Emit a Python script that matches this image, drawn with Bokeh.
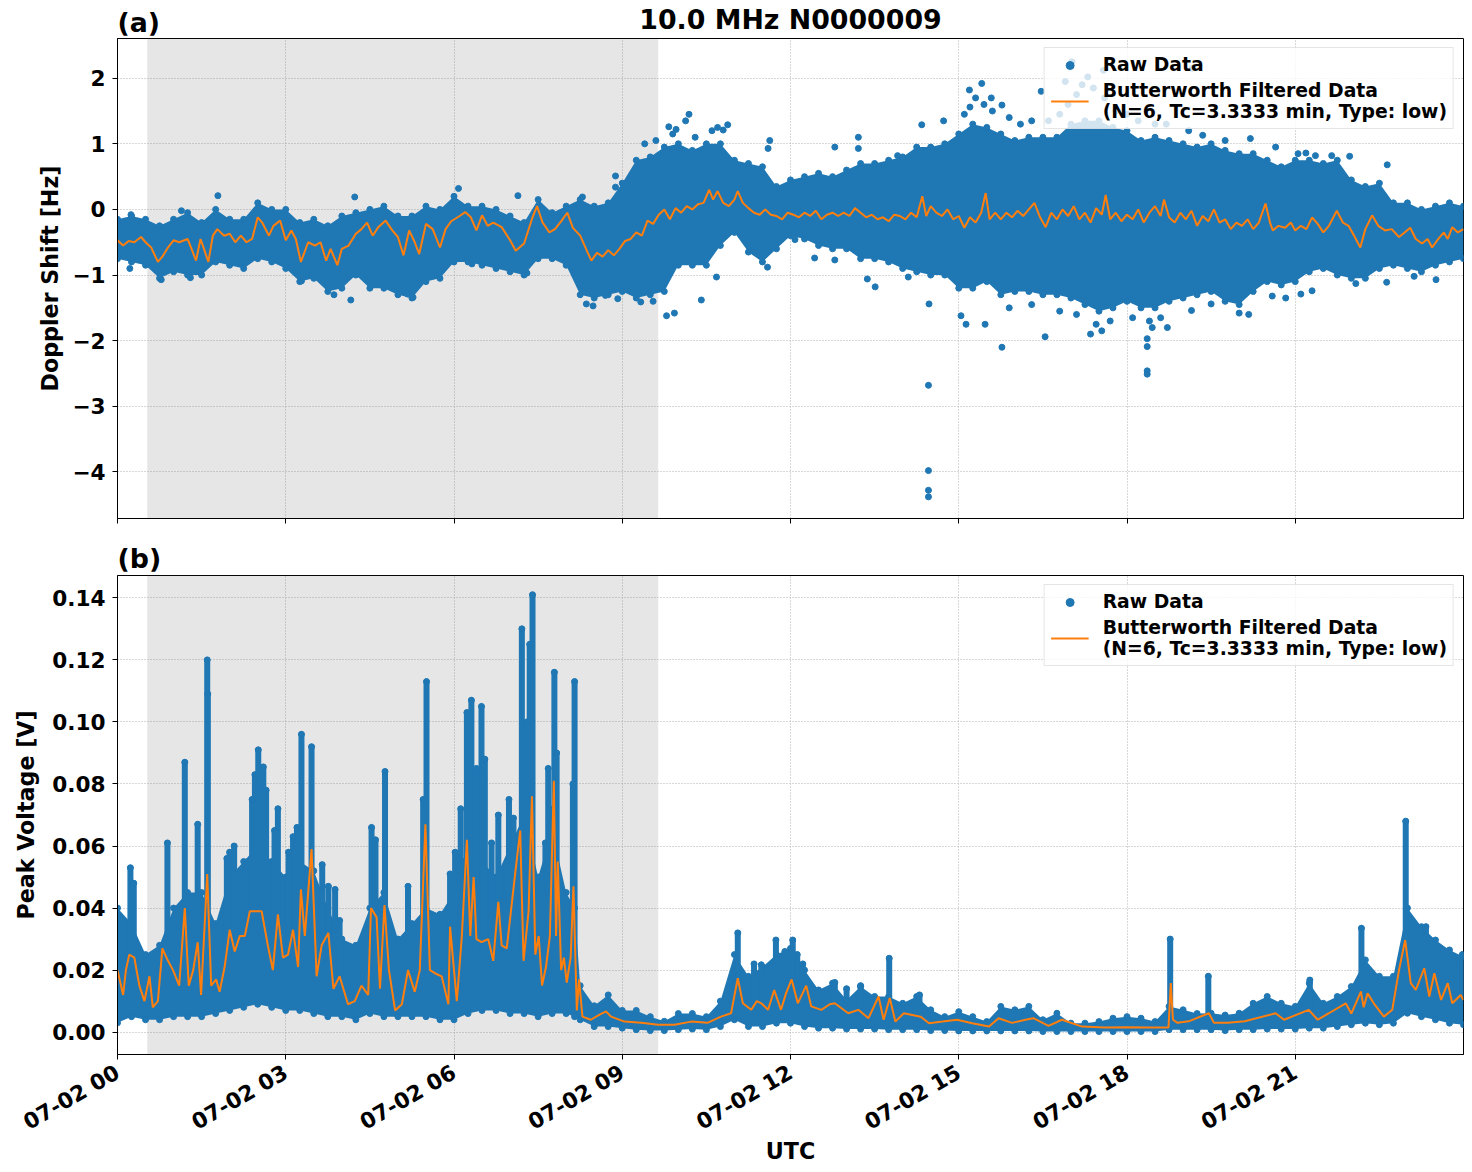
import math
import numpy as np
import pandas as pd
from bokeh.plotting import figure
from bokeh.layouts import column
from bokeh.models import (FixedTicker, BoxAnnotation, Legend, LegendItem, LinearAxis,
                          Range1d, DatetimeTickFormatter)
from bokeh.embed import file_html
from bokeh.resources import INLINE

# ---------------- data (hours after 07-02 00 UTC) ----------------
filt_a_t = [0.00,0.10,0.20,0.30,0.42,0.50,0.60,0.72,0.80,0.90,1.00,1.10,1.25,1.32,1.40,1.48,1.55,1.62,1.70,1.78,
            1.90,2.00,2.10,2.20,2.30,2.40,2.50,2.58,2.70,2.78,2.90,3.00,3.10,3.18,3.27,3.40,3.52,3.62,3.72,3.80,
            3.92,4.00,4.12,4.25,4.35,4.45,4.55,4.65,4.78,4.90,5.00,5.10,5.20,5.30,5.38,5.50,5.62,5.75,5.85,5.95,
            6.10,6.20,6.30,6.40,6.50,6.60,6.70,6.85,7.00,7.10,7.25,7.40,7.48,7.58,7.70,7.80,7.92,8.02,8.12,8.25,
            8.38,8.45,8.55,8.65,8.75,8.85,8.95,9.05,9.15,9.25,9.35,9.45,9.55,9.65,9.75,9.85,9.95,10.05,10.15,10.25,
            10.35,10.45,10.55,10.62,10.70,10.80,10.90,11.00,11.06,11.15,11.25,11.35,11.45,11.55,11.65,11.75,11.85,11.95,12.05,12.15,
            12.25,12.35,12.45,12.55,12.65,12.75,12.85,12.95,13.05,13.15,13.25,13.35,13.45,13.55,13.65,13.75,13.85,13.95,14.05,14.15,
            14.25,14.35,14.42,14.50,14.60,14.70,14.80,14.90,15.00,15.10,15.20,15.30,15.40,15.48,15.55,15.65,15.75,15.85,15.95,16.05,
            16.15,16.25,16.35,16.45,16.55,16.65,16.75,16.85,16.95,17.05,17.15,17.25,17.35,17.45,17.55,17.62,17.70,17.80,17.90,18.00,
            18.10,18.20,18.30,18.40,18.50,18.60,18.66,18.75,18.85,18.95,19.05,19.15,19.25,19.35,19.45,19.55,19.65,19.75,19.85,19.95,
            20.05,20.15,20.25,20.35,20.47,20.55,20.60,20.70,20.82,20.92,21.00,21.10,21.20,21.30,21.40,21.50,21.60,21.74,21.85,21.95,
            22.05,22.16,22.25,22.37,22.48,22.60,22.72,22.85,22.95,23.05,23.15,23.26,23.36,23.44,23.55,23.65,23.72,23.80,23.90,24.00]
filt_a_v = [-0.47,-0.55,-0.48,-0.50,-0.42,-0.50,-0.58,-0.80,-0.72,-0.58,-0.47,-0.50,-0.45,-0.60,-0.78,-0.45,-0.62,-0.80,-0.40,-0.30,
            -0.40,-0.37,-0.50,-0.40,-0.50,-0.45,-0.12,-0.20,-0.40,-0.25,-0.17,-0.47,-0.32,-0.45,-0.80,-0.50,-0.55,-0.50,-0.78,-0.60,
            -0.85,-0.60,-0.55,-0.37,-0.30,-0.20,-0.40,-0.27,-0.17,-0.32,-0.42,-0.70,-0.32,-0.50,-0.68,-0.22,-0.30,-0.58,-0.30,-0.18,
            -0.10,-0.04,-0.12,-0.32,-0.09,-0.25,-0.20,-0.27,-0.47,-0.63,-0.52,-0.12,0.05,-0.20,-0.35,-0.30,-0.17,-0.05,-0.28,-0.40,
            -0.65,-0.78,-0.66,-0.72,-0.62,-0.70,-0.60,-0.48,-0.45,-0.35,-0.40,-0.17,-0.22,-0.08,0.00,-0.15,0.02,-0.05,0.05,0.00,
            0.08,0.10,0.30,0.15,0.28,0.10,0.05,0.15,0.28,0.10,0.02,-0.05,-0.08,0.00,-0.08,-0.10,-0.15,-0.05,-0.08,-0.12,
            -0.05,-0.10,-0.02,-0.15,-0.08,-0.05,-0.10,-0.05,-0.10,0.02,-0.05,-0.12,-0.08,-0.15,-0.12,-0.18,-0.08,-0.10,-0.15,-0.05,
            -0.12,0.20,-0.10,0.05,-0.05,-0.10,0.00,-0.15,-0.10,-0.28,-0.12,-0.20,-0.05,0.25,-0.15,-0.05,-0.15,-0.05,-0.12,-0.02,
            -0.10,0.00,0.10,-0.12,-0.27,-0.05,-0.15,0.00,-0.10,0.05,-0.15,-0.05,-0.20,0.02,-0.08,0.22,-0.15,-0.05,-0.18,-0.08,
            -0.15,0.00,-0.20,-0.05,0.05,-0.10,0.15,-0.12,-0.20,-0.05,-0.15,-0.02,-0.25,-0.10,-0.18,0.00,-0.20,-0.15,-0.30,-0.20,
            -0.25,-0.15,-0.30,-0.20,0.09,-0.20,-0.32,-0.25,-0.28,-0.20,-0.32,-0.25,-0.30,-0.12,-0.22,-0.35,-0.25,-0.02,-0.20,-0.25,
            -0.40,-0.58,-0.30,-0.09,-0.25,-0.32,-0.30,-0.42,-0.35,-0.28,-0.45,-0.52,-0.45,-0.58,-0.45,-0.35,-0.45,-0.27,-0.35,-0.30]

band_a_t = [0.00,0.25,0.50,0.75,1.00,1.25,1.50,1.75,2.00,2.25,2.50,2.75,3.00,3.25,3.50,3.75,4.00,4.25,4.50,4.75,
            5.00,5.25,5.50,5.75,6.00,6.25,6.50,6.75,7.00,7.25,7.50,7.75,8.00,8.25,8.50,8.75,9.00,9.25,9.50,9.75,
            10.00,10.25,10.50,10.75,11.00,11.25,11.50,11.75,12.00,12.25,12.50,12.75,13.00,13.25,13.50,13.75,14.00,14.25,14.50,14.75,
            15.00,15.25,15.50,15.75,16.00,16.25,16.50,16.75,17.00,17.25,17.50,17.75,18.00,18.25,18.50,18.75,19.00,19.25,19.50,19.75,
            20.00,20.25,20.50,20.75,21.00,21.25,21.50,21.75,22.00,22.25,22.50,22.75,23.00,23.25,23.50,23.75,24.00]
band_a_hi = [-0.15,-0.10,-0.15,-0.25,-0.15,-0.05,-0.20,0.00,-0.15,-0.15,0.10,0.00,0.00,-0.20,-0.15,-0.25,-0.10,-0.05,0.00,0.05,
             -0.10,-0.10,0.05,0.00,0.20,0.05,0.05,0.00,-0.10,-0.20,0.15,-0.05,0.05,0.15,0.05,0.10,0.40,0.75,0.80,0.95,
             1.00,0.90,1.00,1.00,0.75,0.70,0.65,0.35,0.45,0.50,0.55,0.50,0.60,0.70,0.70,0.75,0.80,0.95,0.95,1.00,
             1.15,1.30,1.25,1.15,1.05,1.10,1.10,1.10,1.30,1.35,1.35,1.25,1.20,1.05,1.10,1.05,1.00,0.95,1.00,0.90,
             0.85,0.85,0.75,0.65,0.75,0.75,0.70,0.75,0.45,0.35,0.40,0.10,0.10,0.00,0.05,0.10,0.05]
band_a_lo = [-0.75,-0.80,-0.85,-1.05,-0.95,-1.00,-1.00,-0.80,-0.85,-0.90,-0.75,-0.80,-0.90,-1.10,-1.05,-1.25,-1.20,-1.00,-1.20,-1.20,
             -1.30,-1.35,-1.10,-1.05,-0.80,-0.80,-0.85,-0.90,-0.95,-1.00,-0.75,-0.75,-0.85,-1.30,-1.35,-1.30,-1.25,-1.35,-1.30,-1.25,
             -0.85,-0.85,-0.85,-0.55,-0.35,-0.65,-0.80,-0.60,-0.40,-0.45,-0.55,-0.60,-0.60,-0.75,-0.75,-0.80,-0.90,-0.95,-1.00,-1.00,
             -1.20,-1.20,-1.10,-1.30,-1.25,-1.25,-1.30,-1.30,-1.35,-1.45,-1.55,-1.50,-1.40,-1.50,-1.50,-1.40,-1.35,-1.30,-1.25,-1.40,
             -1.45,-1.25,-1.10,-1.15,-1.10,-0.95,-0.90,-1.00,-1.05,-1.05,-0.90,-0.85,-0.90,-0.95,-0.85,-0.80,-0.75]

out_a_t = [0.24,0.22,1.14,1.30,1.79,0.78,3.28,3.86,4.16,4.23,4.65,5.17,5.27,6.08,6.32,6.70,7.14,7.30,
           8.29,8.88,8.88,8.36,8.48,8.70,8.92,9.33,9.55,9.79,9.93,10.41,10.68,10.19,10.13,9.83,9.96,10.88,10.80,
           11.63,11.60,11.36,11.59,12.08,12.43,12.79,12.79,13.21,13.21,13.37,13.51,13.91,14.10,14.34,14.47,14.73,
           15.04,15.13,15.19,15.41,15.58,15.47,15.20,16.47,15.77,22.64,15.77,16.54,17.35,17.55,18.36,18.36,18.36,18.36,
           18.72,18.45,20.17,20.59,20.83,22.08,22.63,23.51,23.12,21.97,21.36,21.19,17.02,17.58,16.90,17.30,19.16,
           14.46,14.46,14.46,14.46,
           9.40,9.60,9.90,10.30,10.60,10.70,15.10,15.30,15.45,15.60,15.90,16.10,16.30,16.60,16.80,16.95,17.10,17.20,
           17.40,17.60,17.80,18.00,18.20,18.50,18.70,19.10,19.35,19.75,20.20,20.65,21.05,21.65,
           15.90,16.30,16.80,17.10,17.45,17.70,18.10,18.40,18.60,19.15,19.50,20.00,21.10,21.30]
out_a_v = [-0.08,-0.90,-0.02,-1.04,0.21,-1.07,-1.09,-1.30,-1.38,0.19,-1.07,-1.29,-1.34,0.32,-0.83,-0.75,0.21,-0.97,
           0.19,0.51,0.34,-1.44,-1.47,-1.31,-1.36,-1.41,-1.40,-1.62,-1.58,-1.38,-1.03,1.45,1.35,1.26,1.22,1.29,1.21,
           1.05,0.93,-0.65,-0.88,-0.46,-0.74,0.95,-0.77,1.10,0.93,-1.06,-1.18,0.82,-1.03,1.29,-1.44,1.35,
           -1.62,-1.75,1.82,1.92,1.70,-1.75,1.56,1.80,1.59,0.68,-2.10,-1.94,-1.90,-1.85,-1.97,-2.09,-2.46,-2.51,
           -1.80,-1.80,-1.60,-1.32,-1.35,-1.13,-1.11,-1.07,-1.02,0.81,0.82,0.86,2.25,2.12,1.95,2.02,2.15,
           -2.68,-3.98,-4.28,-4.38,
           1.00,1.05,1.15,1.10,1.20,1.25,1.45,1.70,1.60,1.50,1.40,1.30,1.35,1.35,1.45,1.60,1.75,1.90,
           1.85,1.70,1.50,1.45,1.35,1.30,1.30,1.20,1.13,1.05,1.08,0.95,0.85,0.82,
           -1.50,-1.45,-1.55,-1.60,-1.75,-1.70,-1.65,-1.70,-1.65,-1.54,-1.44,-1.58,-1.29,-1.24]

filt_b_t = [0.00,0.05,0.10,0.15,0.21,0.30,0.39,0.48,0.57,0.63,0.72,0.80,0.90,0.99,1.10,1.20,1.27,1.35,1.43,1.49,
            1.60,1.67,1.76,1.82,1.91,2.00,2.09,2.18,2.27,2.36,2.45,2.57,2.68,2.77,2.86,2.95,3.04,3.13,3.22,3.27,
            3.34,3.46,3.55,3.64,3.76,3.85,3.96,4.11,4.23,4.35,4.47,4.52,4.62,4.68,4.76,4.84,4.95,5.07,5.18,5.30,
            5.39,5.49,5.57,5.66,5.78,5.90,5.93,6.05,6.14,6.23,6.29,6.35,6.40,6.49,6.61,6.70,6.79,6.85,6.94,7.09,
            7.18,7.24,7.33,7.39,7.45,7.51,7.57,7.64,7.71,7.78,7.82,7.85,7.91,7.96,8.01,8.08,8.13,8.19,8.23,8.29,
            8.44,8.59,8.71,8.80,9.04,9.34,9.64,9.93,10.23,10.52,10.76,10.94,11.06,11.15,11.30,11.40,11.48,11.60,11.71,11.83,
            11.92,12.02,12.13,12.28,12.37,12.55,12.70,12.79,13.03,13.21,13.39,13.57,13.66,13.77,13.87,14.02,14.32,14.47,14.71,14.97,
            15.24,15.54,15.71,15.95,16.19,16.33,16.60,16.84,17.20,17.60,18.00,18.40,18.74,18.78,18.82,18.90,19.10,19.46,19.55,19.80,
            20.10,20.65,20.80,21.24,21.40,21.60,21.90,22.00,22.17,22.22,22.29,22.40,22.58,22.73,22.85,22.96,23.06,23.15,23.30,23.39,
            23.48,23.60,23.72,23.80,23.95,24.00]
filt_b_v = [0.020,0.016,0.012,0.020,0.025,0.024,0.015,0.010,0.018,0.008,0.010,0.027,0.023,0.020,0.015,0.040,0.015,0.020,0.029,0.012,
            0.051,0.015,0.017,0.013,0.021,0.033,0.026,0.031,0.031,0.039,0.039,0.039,0.028,0.020,0.038,0.024,0.025,0.033,0.021,0.046,
            0.031,0.059,0.018,0.028,0.032,0.014,0.018,0.009,0.010,0.015,0.012,0.040,0.037,0.014,0.041,0.020,0.007,0.009,0.020,0.013,
            0.020,0.067,0.020,0.019,0.018,0.009,0.034,0.010,0.031,0.062,0.031,0.050,0.030,0.029,0.030,0.023,0.042,0.028,0.027,0.051,
            0.065,0.023,0.039,0.076,0.025,0.031,0.015,0.021,0.031,0.081,0.031,0.055,0.020,0.024,0.016,0.024,0.047,0.007,0.017,0.005,
            0.0040,0.0056,0.0067,0.0050,0.0034,0.0030,0.0024,0.0024,0.0034,0.0030,0.0050,0.0061,0.0174,0.0093,0.0072,0.0100,0.0093,0.0072,0.0136,0.0072,
            0.0125,0.0170,0.0093,0.0150,0.0083,0.0072,0.0090,0.0093,0.0061,0.0072,0.0045,0.0115,0.0040,0.0110,0.0034,0.0061,0.0050,0.0029,0.0034,0.0040,
            0.0029,0.0018,0.0045,0.0030,0.0040,0.0045,0.0020,0.0040,0.0018,0.0015,0.0016,0.0015,0.0015,0.0158,0.0040,0.0030,0.0035,0.0061,0.0030,0.0030,
            0.0035,0.0061,0.0040,0.0072,0.0040,0.0061,0.0093,0.0060,0.0131,0.0080,0.0125,0.0093,0.0050,0.0072,0.0200,0.0297,0.0158,0.0136,0.0206,0.0115,
            0.0190,0.0104,0.0158,0.0093,0.0120,0.0104]

band_b_t = [0.00,0.25,0.50,0.75,1.00,1.25,1.50,1.75,2.00,2.25,2.50,2.75,3.00,3.25,3.50,3.75,4.00,4.25,4.50,4.75,
            5.00,5.25,5.50,5.75,6.00,6.25,6.50,6.75,7.00,7.25,7.50,7.75,8.00,8.15,8.25,8.50,8.75,9.00,9.25,9.50,
            9.75,10.00,10.25,10.50,10.75,11.00,11.25,11.50,11.75,12.00,12.25,12.50,12.75,13.00,13.25,13.50,13.75,14.00,14.25,14.50,
            14.75,15.00,15.25,15.50,15.75,16.00,16.25,16.50,16.75,17.00,17.25,17.50,17.75,18.00,18.25,18.50,18.75,19.00,19.25,19.50,
            19.75,20.00,20.25,20.50,20.75,21.00,21.25,21.50,21.75,22.00,22.25,22.50,22.75,23.00,23.25,23.50,23.75,24.00]
band_b_hi = [0.040,0.035,0.025,0.028,0.040,0.045,0.045,0.035,0.050,0.055,0.060,0.055,0.050,0.055,0.052,0.040,0.030,0.028,0.040,0.045,
             0.030,0.035,0.040,0.038,0.045,0.060,0.055,0.050,0.060,0.070,0.050,0.065,0.045,0.040,0.015,0.0085,0.012,0.007,0.007,0.005,
             0.0035,0.006,0.006,0.005,0.010,0.025,0.018,0.021,0.025,0.027,0.020,0.0136,0.0158,0.0104,0.0147,0.0115,0.0115,0.0093,0.0115,0.0072,
             0.0050,0.0066,0.0050,0.0034,0.0083,0.0072,0.0083,0.0040,0.0061,0.0029,0.0029,0.0034,0.0045,0.0050,0.0045,0.0034,0.0083,0.0072,0.0060,0.0061,
             0.0055,0.0061,0.0093,0.0115,0.0093,0.0083,0.0158,0.0093,0.0115,0.0147,0.0233,0.0180,0.0180,0.0400,0.0340,0.0297,0.0265,0.0243]
band_b_lo = [0.003,0.005,0.004,0.004,0.005,0.005,0.005,0.006,0.007,0.008,0.009,0.008,0.007,0.007,0.006,0.005,0.005,0.004,0.006,0.005,
             0.005,0.005,0.005,0.004,0.004,0.006,0.007,0.007,0.006,0.006,0.005,0.006,0.006,0.005,0.004,0.0018,0.0018,0.0013,0.0008,0.0005,
             0.0005,0.0008,0.0010,0.0008,0.0018,0.004,0.0018,0.0018,0.0029,0.0029,0.0018,0.0013,0.0013,0.0010,0.0010,0.0010,0.0008,0.0008,0.0008,0.0005,
             0.0005,0.0004,0.0004,0.0004,0.0004,0.0004,0.0004,0.0002,0.0002,0.0002,0.0002,0.0002,0.0002,0.0002,0.0002,0.0002,0.0008,0.0008,0.0008,0.0008,
             0.0005,0.0008,0.0008,0.0010,0.0010,0.0010,0.0013,0.0013,0.0018,0.0024,0.0029,0.0024,0.0029,0.0061,0.0050,0.0040,0.0029,0.0024]

# columns of raw points rising above the dense band (time, top, a value inside the band)
spike_b_t = [0.23,0.29,0.89,1.20,1.43,1.60,1.61,2.00,2.08,2.33,2.51,2.60,2.80,2.86,3.13,3.28,3.46,3.76,3.88,3.96,
             4.53,4.77,5.18,5.51,5.93,6.02,6.17,6.23,6.31,6.49,6.67,6.79,6.94,7.06,7.21,7.40,7.63,7.71,7.79,8.15,
             11.06,11.48,11.74,12.04,12.79,13.76,18.77,19.45,21.26,22.18,22.97,23.33,23.98,
             1.95,2.40,2.45,2.65,3.05,3.20,3.65,4.60,5.45,6.12,6.40,6.55,6.98,7.30,7.35,7.68,7.83,8.12,
             11.35,11.90,12.12,12.22,13.00,13.25,14.30]
spike_b_v = [0.053,0.048,0.061,0.087,0.067,0.120,0.109,0.058,0.060,0.055,0.091,0.0855,0.065,0.072,0.063,0.096,0.092,0.047,0.046,0.036,
             0.066,0.084,0.047,0.113,0.051,0.058,0.055,0.103,0.107,0.105,0.061,0.070,0.054,0.069,0.130,0.141,0.061,0.072,0.116,0.113,
             0.032,0.0217,0.0297,0.0297,0.016,0.0238,0.030,0.018,0.0168,0.0335,0.068,0.034,0.025,
             0.056,0.075,0.083,0.078,0.058,0.066,0.054,0.062,0.075,0.072,0.085,0.088,0.075,0.100,0.125,0.085,0.090,0.080,
             0.022,0.026,0.025,0.022,0.014,0.015,0.012]
spike_b_base = [0.020,0.020,0.020,0.020,0.020,0.020,0.020,0.025,0.025,0.030,0.030,0.030,0.030,0.030,0.025,0.025,0.025,0.020,0.020,0.015,
                0.020,0.020,0.015,0.020,0.020,0.020,0.025,0.025,0.025,0.025,0.025,0.025,0.025,0.025,0.025,0.025,0.020,0.025,0.025,0.020,
                0.008,0.008,0.010,0.010,0.005,0.005,0.003,0.003,0.005,0.008,0.015,0.015,0.012,
                0.025,0.030,0.030,0.030,0.025,0.025,0.020,0.020,0.020,0.025,0.025,0.025,0.025,0.025,0.025,0.025,0.025,0.020,
                0.008,0.010,0.010,0.008,0.005,0.005,0.004]

night_start_h, night_end_h = 0.53, 9.64
tick_hours = [0, 3, 6, 9, 12, 15, 18, 21]
panel_a_tag_h = 0.38   # centre of the "(a)" tag along the time axis

# ---------------- helpers ----------------
BASE = pd.Timestamp("2024-07-02 00:00:00")
def dt(h):
    return BASE + pd.to_timedelta(np.asarray(h, dtype=float), unit="h")
def ms(h):
    return (BASE + pd.Timedelta(hours=h)).timestamp() * 1000.0

BLUE = "#1f77b4"
ORANGE = "#ff7f0e"
FONT = "DejaVu Sans"
TICK_FS = "21.6px"
LABEL_FS = "22.2px"
TITLE_FS = "26.8px"

def style(p, ylabel, yticks, yoverrides, label_standoff):
    p.outline_line_color = "black"
    p.outline_line_width = 1
    p.outline_line_alpha = 1
    for ax in (p.xaxis[0], p.yaxis[0]):
        ax.axis_line_color = "black"
        ax.major_tick_line_color = "black"
        ax.major_tick_out = 5
        ax.major_tick_in = 0
        ax.minor_tick_line_color = None
        ax.major_label_text_font = FONT
        ax.major_label_text_font_style = "bold"
        ax.major_label_text_font_size = TICK_FS
        ax.major_label_text_color = "black"
        ax.major_label_standoff = 7
        ax.axis_label_text_font = FONT
        ax.axis_label_text_font_style = "bold"
        ax.axis_label_text_font_size = LABEL_FS
        ax.axis_label_text_color = "black"
    p.yaxis.axis_label = ylabel
    p.yaxis.axis_label_standoff = label_standoff
    p.yaxis.ticker = FixedTicker(ticks=yticks)
    p.yaxis.major_label_overrides = yoverrides
    p.xaxis.ticker = FixedTicker(ticks=[ms(h) for h in tick_hours])
    for g in (p.xgrid[0], p.ygrid[0]):
        g.grid_line_color = "#b0b0b0"
        g.grid_line_dash = "1 2"
        g.grid_line_width = 1
    p.add_layout(BoxAnnotation(left=ms(night_start_h), right=ms(night_end_h),
                               fill_color="#808080", fill_alpha=0.2, line_color=None,
                               level="underlay"))

def make_legend(p, r_raw, r_filt):
    leg = Legend(items=[LegendItem(label="Raw Data", renderers=[r_raw]),
                        LegendItem(label="Butterworth Filtered Data\n(N=6, Tc=3.3333 min, Type: low)",
                                   renderers=[r_filt])],
                 location="top_right")
    leg.label_text_font = FONT
    leg.label_text_font_style = "bold"
    leg.label_text_font_size = "18.8px"
    leg.label_text_color = "black"
    leg.label_text_line_height = 1.1
    leg.background_fill_alpha = 0.8
    leg.border_line_color = "#cccccc"
    leg.border_line_width = 1
    leg.glyph_width = 38
    leg.label_standoff = 14
    leg.padding = 6
    leg.spacing = 5
    leg.margin = 9
    p.add_layout(leg)

xr = Range1d(start=dt(0.0), end=dt(24.0))

# ---------------- panel (a) ----------------
pa = figure(width=1472, height=538, frame_width=1346, frame_height=480, title=None,
            x_axis_type="datetime", x_range=xr, y_range=Range1d(-4.71, 2.605),
            min_border_left=117, min_border_right=9, min_border_top=38, min_border_bottom=20,
            output_backend="svg", toolbar_location=None, background_fill_color="white")
ya_ticks = [-4, -3, -2, -1, 0, 1, 2]
style(pa, "Doppler Shift [Hz]", ya_ticks,
      {t: (("\u2212" + str(abs(t))) if t < 0 else str(t)) for t in ya_ticks}, 6)
pa.xaxis.major_label_overrides = {ms(h): "" for h in tick_hours}

# top axis carrying the panel tag "(a)" and the figure title on one row
top = LinearAxis(ticker=FixedTicker(ticks=[ms(panel_a_tag_h)]),
                 major_label_overrides={ms(panel_a_tag_h): "(a)"},
                 axis_label="10.0 MHz N0000009")
top.axis_line_color = None
top.major_tick_line_color = None
top.minor_tick_line_color = None
top.major_tick_out = 0
top.major_tick_in = 0
top.major_label_standoff = 1
top.major_label_text_font = FONT
top.major_label_text_font_style = "bold"
top.major_label_text_font_size = TITLE_FS
top.major_label_text_color = "black"
top.axis_label_text_font = FONT
top.axis_label_text_font_style = "bold"
top.axis_label_text_font_size = TITLE_FS
top.axis_label_text_color = "black"
top.axis_label_standoff = -31
pa.add_layout(top, "above")

ta = dt(band_a_t)
pa.varea(x=ta, y1=band_a_lo, y2=band_a_hi, fill_color=BLUE, fill_alpha=1)
pa.scatter(x=ta, y=band_a_hi, size=6, color=BLUE)
pa.scatter(x=ta, y=band_a_lo, size=6, color=BLUE)
ra_raw = pa.scatter(x=dt(out_a_t), y=out_a_v, size=6, color=BLUE)
ra_f = pa.line(x=dt(filt_a_t), y=filt_a_v, line_color=ORANGE, line_width=2)
make_legend(pa, ra_raw, ra_f)

# ---------------- panel (b) ----------------
pb = figure(width=1472, height=634, frame_width=1346, frame_height=479,
            x_axis_type="datetime", x_range=xr, y_range=Range1d(-0.0072, 0.1472),
            min_border_left=117, min_border_right=9, min_border_top=37, min_border_bottom=118,
            output_backend="svg", toolbar_location=None, background_fill_color="white")
pb.title.text = "(b)"
pb.title.align = "left"
pb.title.text_font = FONT
pb.title.text_font_style = "bold"
pb.title.text_font_size = TITLE_FS
pb.title.text_color = "black"
pb.title.standoff = 3
yb_ticks = [0.0, 0.02, 0.04, 0.06, 0.08, 0.10, 0.12, 0.14]
style(pb, "Peak Voltage [V]", yb_ticks, {t: "%.2f" % t for t in yb_ticks}, 10)
pb.xaxis.axis_label = "UTC"
pb.xaxis.major_label_standoff = 11
pb.xaxis.axis_label_standoff = -10
pb.xaxis.formatter = DatetimeTickFormatter(hours="%m-%d %H", days="%m-%d %H",
                                           hourmin="%m-%d %H", strip_leading_zeros=False)
pb.xaxis.major_label_orientation = math.pi / 6

tb = dt(band_b_t)
pb.varea(x=tb, y1=band_b_lo, y2=band_b_hi, fill_color=BLUE, fill_alpha=1)
pb.scatter(x=tb, y=band_b_hi, size=6, color=BLUE)
pb.scatter(x=tb, y=band_b_lo, size=6, color=BLUE)
pb.segment(x0=dt(spike_b_t), y0=spike_b_base, x1=dt(spike_b_t), y1=spike_b_v,
           line_color=BLUE, line_width=6, line_cap="round")
rb_raw = pb.scatter(x=dt(spike_b_t), y=spike_b_v, size=6, color=BLUE)
rb_f = pb.line(x=dt(filt_b_t), y=filt_b_v, line_color=ORANGE, line_width=2)
make_legend(pb, rb_raw, rb_f)

layout = column(pa, pb, spacing=0)
open("out.html", "w").write(file_html(layout, INLINE))
